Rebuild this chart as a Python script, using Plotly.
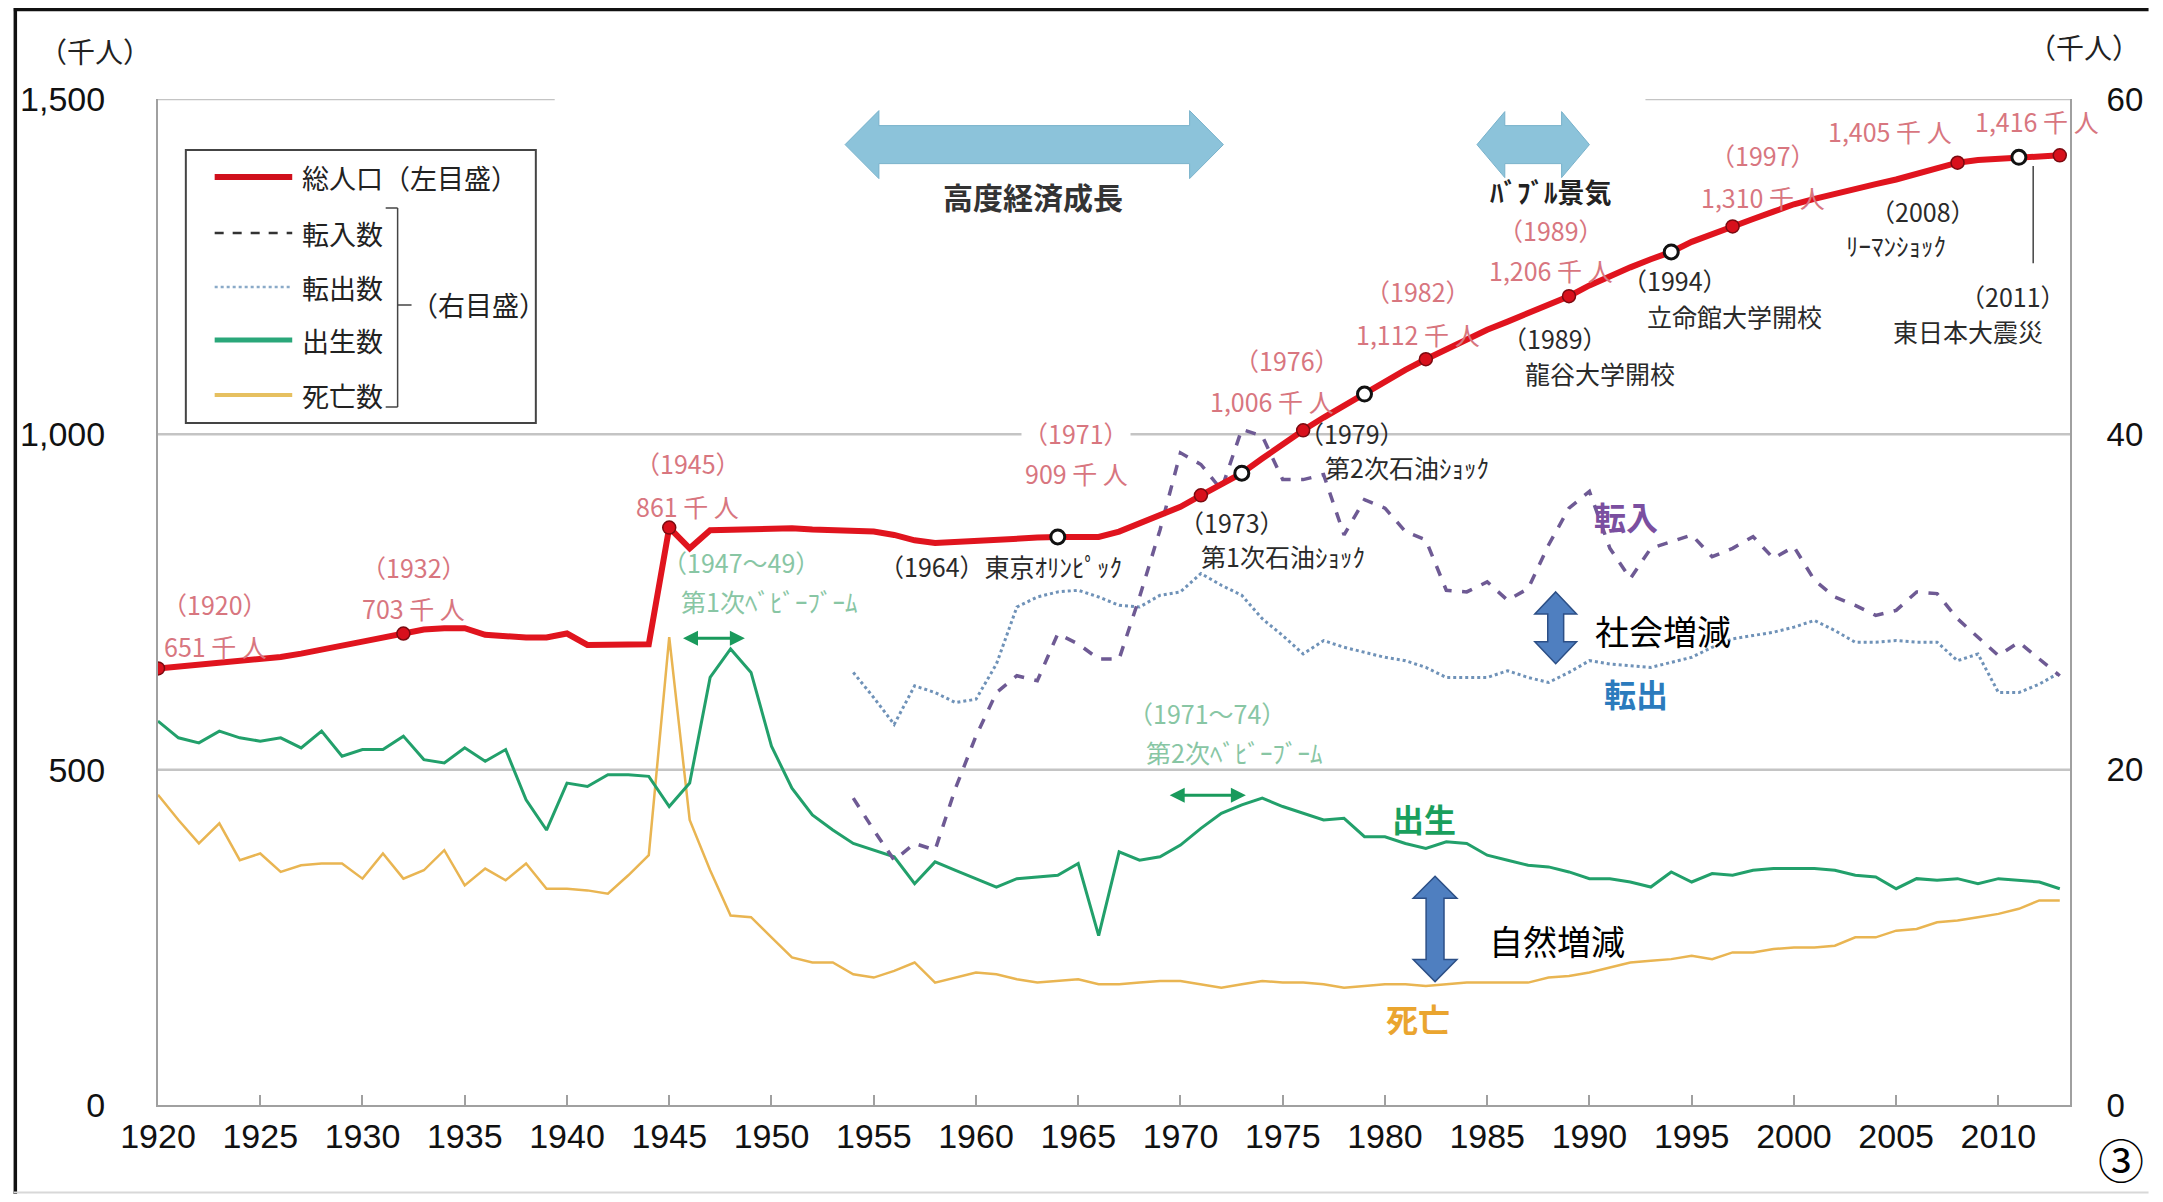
import plotly.graph_objects as go

# ---------------- data ----------------
years = list(range(1920, 2014))
population = [651, 654, 657, 660, 662, 664, 668, 673, 678, 685,
              691, 697, 703, 709, 711, 711, 701, 698, 697, 697,
              703, 686, 686, 686, 687, 861, 830, 857, 858, 859,
              861, 860, 858, 857, 856, 855, 850, 842, 838, 840,
              841, 843, 845, 846, 847, 847, 847, 855, 868, 880,
              892, 909, 925, 942, 964, 986, 1006, 1025, 1043, 1060,
              1080, 1096, 1112, 1127, 1141, 1156, 1168, 1180, 1193, 1206,
              1222, 1236, 1249, 1261, 1272, 1287, 1299, 1310, 1321, 1332,
              1343, 1351, 1359, 1366, 1373, 1380, 1388, 1396, 1405, 1409,
              1411, 1413, 1415, 1416]
births = [22.9, 21.9, 21.6, 22.3, 21.9, 21.7, 21.9, 21.3, 22.3, 20.8,
          21.2, 21.2, 22.0, 20.6, 20.4, 21.3, 20.5, 21.2, 18.2, 16.4,
          19.2, 19.0, 19.7, 19.7, 19.6, 17.8, 19.2, 25.5, 27.2, 25.8,
          21.4, 18.9, 17.3, 16.4, 15.6, 15.2, 14.8, 13.2, 14.5, 14.0,
          13.5, 13.0, 13.5, 13.6, 13.7, 14.4, 10.1, 15.1, 14.6, 14.8,
          15.5, 16.5, 17.4, 17.9, 18.3, 17.8, 17.4, 17.0, 17.1, 16.0,
          16.0, 15.6, 15.3, 15.7, 15.6, 14.9, 14.6, 14.3, 14.2, 13.9,
          13.5, 13.5, 13.3, 13.0, 13.9, 13.3, 13.8, 13.7, 14.0, 14.1,
          14.1, 14.1, 14.0, 13.7, 13.6, 12.9, 13.5, 13.4, 13.5, 13.2,
          13.5, 13.4, 13.3, 12.9]
deaths = [18.5, 17.0, 15.6, 16.8, 14.6, 15.0, 13.9, 14.3, 14.4, 14.4,
          13.5, 15.0, 13.5, 14.0, 15.2, 13.1, 14.1, 13.4, 14.4, 12.9,
          12.9, 12.8, 12.6, 13.7, 14.9, 27.9, 17.0, 14.0, 11.3, 11.2,
          10.0, 8.8, 8.5, 8.5, 7.8, 7.6, 8.0, 8.5, 7.3, 7.6,
          7.9, 7.8, 7.5, 7.3, 7.4, 7.5, 7.2, 7.2, 7.3, 7.4,
          7.4, 7.2, 7.0, 7.2, 7.4, 7.3, 7.3, 7.2, 7.0, 7.1,
          7.2, 7.2, 7.1, 7.2, 7.3, 7.3, 7.3, 7.3, 7.6, 7.7,
          7.9, 8.2, 8.5, 8.6, 8.7, 8.9, 8.7, 9.1, 9.1, 9.3,
          9.4, 9.4, 9.5, 10.0, 10.0, 10.4, 10.5, 10.9, 11.0, 11.2,
          11.4, 11.7, 12.2, 12.2]
mig_years = list(range(1954, 2014))
moved_in = [18.3, 16.4, 14.6, 15.6, 15.2, 18.9, 22.0, 24.6, 25.6, 25.3,
            28.1, 27.5, 26.6, 26.6, 30.3, 34.3, 38.9, 38.2, 36.7, 40.3,
            39.9, 37.3, 37.3, 37.6, 34.0, 36.1, 35.6, 34.2, 33.7, 30.7,
            30.6, 31.2, 30.1, 30.8, 33.4, 35.6, 36.6, 33.2, 31.4, 33.2,
            33.6, 34.0, 32.7, 33.2, 33.9, 32.6, 33.3, 31.3, 30.3, 29.8,
            29.2, 29.5, 30.6, 30.5, 29.0, 27.9, 26.8, 27.6, 26.6, 25.6]
moved_out = [25.8, 24.3, 22.7, 25.0, 24.6, 24.0, 24.2, 26.3, 29.7, 30.3,
             30.6, 30.7, 30.3, 29.8, 29.7, 30.4, 30.6, 31.7, 31.0, 30.4,
             29.0, 28.0, 26.9, 27.7, 27.3, 27.0, 26.7, 26.5, 26.1, 25.5,
             25.5, 25.5, 25.9, 25.5, 25.2, 25.8, 26.5, 26.3, 26.2, 26.1,
             26.4, 26.7, 27.3, 27.8, 28.0, 28.2, 28.5, 28.9, 28.3, 27.6,
             27.6, 27.7, 27.6, 27.6, 26.5, 26.9, 24.6, 24.6, 25.1, 25.8]
label_years = [1920, 1932, 1945, 1971, 1976, 1982, 1989, 1997, 2008, 2013]
event_years = [1964, 1973, 1979, 1994, 2011]
x_ticks = list(range(1920, 2011, 5))
left_ticks = [0, 500, 1000, 1500]
left_ticktext = ["0", "500", "1,000", "1,500"]
right_ticks = [0, 20, 40, 60]

# ---------------- geometry helpers ----------------
PL, PR, PT, PB = 153, 2076, 99, 1105          # plot area in reference pixels
XMIN, XMAX = 1920, 2013.5
PPY = (PR - PL) / (XMAX - XMIN)               # px per year
PPU = (PB - PT) / 1500.0                      # px per left unit
OFF = 8                                       # body margin of the page
FW, FH = 2163 - 2 * OFF, 1202 - 2 * OFF


def rp(xr, yr):
    return (xr - PL) / (PR - PL), (PB - yr) / (PB - PT)


def fp(fx, fy):
    return rp(fx + OFF, fy + OFF)


def harrow(xa, xb, yc, hl_px, hh_px, sh_px):
    hl, hh, sh = hl_px / PPY, hh_px / PPU, sh_px / PPU
    pts = [(xa, yc), (xa + hl, yc + hh), (xa + hl, yc + sh), (xb - hl, yc + sh),
           (xb - hl, yc + hh), (xb, yc), (xb - hl, yc - hh), (xb - hl, yc - sh),
           (xa + hl, yc - sh), (xa + hl, yc - hh)]
    return "M " + " L ".join(f"{x:.4f},{y:.4f}" for x, y in pts) + " Z"


def varrow(xc, ya, yb, hl_px, hw_px, sw_px):
    hl, hw, sw = hl_px / PPU, hw_px / PPY, sw_px / PPY
    pts = [(xc, yb), (xc + hw, yb - hl), (xc + sw, yb - hl), (xc + sw, ya + hl),
           (xc + hw, ya + hl), (xc, ya), (xc - hw, ya + hl), (xc - sw, ya + hl),
           (xc - sw, yb - hl), (xc - hw, yb - hl)]
    return "M " + " L ".join(f"{x:.4f},{y:.4f}" for x, y in pts) + " Z"


JP = "Noto Sans CJK JP, Noto Sans, sans-serif"
NUM = "Liberation Sans Narrow, Arial Narrow, Liberation Sans, Arial, sans-serif"
PINK = "#d8767f"
DARK = "#2a2a2a"
GFADE = "#88c6a4"

fig = go.Figure()

# right-axis series (y)
fig.add_trace(go.Scatter(x=years, y=deaths, mode="lines", yaxis="y",
                         line=dict(color="#e9b552", width=2.5), showlegend=False))
fig.add_trace(go.Scatter(x=years, y=births, mode="lines", yaxis="y",
                         line=dict(color="#22a06b", width=3), showlegend=False))
fig.add_trace(go.Scatter(x=mig_years, y=moved_out, mode="lines", yaxis="y",
                         line=dict(color="#6f92b8", width=3, dash="dot"), showlegend=False))
fig.add_trace(go.Scatter(x=mig_years, y=moved_in, mode="lines", yaxis="y",
                         line=dict(color="#6e5a94", width=3.5, dash="dash"), showlegend=False))
# population on left axis (y2, overlay)
fig.add_trace(go.Scatter(x=years, y=population, mode="lines", yaxis="y2",
                         line=dict(color="#e0141e", width=6), showlegend=False))
pop_lookup = dict(zip(years, population))
fig.add_trace(go.Scatter(x=label_years, y=[pop_lookup[y] for y in label_years],
                         mode="markers", yaxis="y2", showlegend=False,
                         marker=dict(size=13, color="#d8101c", line=dict(color="#7a0a10", width=1.5))))
fig.add_trace(go.Scatter(x=event_years, y=[pop_lookup[y] for y in event_years],
                         mode="markers", yaxis="y2", showlegend=False,
                         marker=dict(size=14, color="white", line=dict(color="#111", width=3))))

shapes = []
GRID = dict(color="#c4c4c4", width=2.5)
for v in (500, 1000):
    shapes.append(dict(type="line", xref="paper", yref="y2", x0=0, x1=1, y0=v, y1=v,
                       line=GRID, layer="below"))
shapes.append(dict(type="line", xref="paper", yref="y2", x0=0, x1=rp(552, 0)[0],
                   y0=1500, y1=1500, line=GRID, layer="below"))
shapes.append(dict(type="line", xref="paper", yref="y2", x0=rp(1649, 0)[0], x1=1,
                   y0=1500, y1=1500, line=GRID, layer="below"))

# big light-blue arrows
shapes.append(dict(type="path", xref="x", yref="y2", path=harrow(1953.6, 1972.1, 1432, 34, 34, 19),
                   fillcolor="#8cc3da", line=dict(color="#79b2cb", width=1)))
shapes.append(dict(type="path", xref="x", yref="y2", path=harrow(1984.5, 1990.0, 1432, 28, 33, 19),
                   fillcolor="#8cc3da", line=dict(color="#79b2cb", width=1)))
# blue vertical arrows
shapes.append(dict(type="path", xref="x", yref="y2", path=varrow(1988.35, 658, 765, 22, 21, 8),
                   fillcolor="#4f7fc0", line=dict(color="#2c4f86", width=1.5)))
shapes.append(dict(type="path", xref="x", yref="y2", path=varrow(1982.45, 184, 341, 22, 22, 9),
                   fillcolor="#4f7fc0", line=dict(color="#2c4f86", width=1.5)))
# connector line for 2011
shapes.append(dict(type="line", xref="x", yref="y2", x0=2011.7, x1=2011.7, y0=1400, y1=1255,
                   line=dict(color="#444", width=1.5)))

# legend box
lx0, ly0 = rp(181, 423)
lx1, ly1 = rp(533, 150)
shapes.append(dict(type="rect", xref="paper", yref="paper", x0=lx0, y0=ly0, x1=lx1, y1=ly1,
                   fillcolor="white", line=dict(color="#444", width=2)))
leg_items = [("総人口（左目盛）", 177, dict(color="#d0101c", width=6)),
             ("転入数", 233, dict(color="#333", width=2.5, dash="dash")),
             ("転出数", 287, dict(color="#8aaac8", width=2.5, dash="dot")),
             ("出生数", 340, dict(color="#2aa77a", width=5)),
             ("死亡数", 395, dict(color="#e6c060", width=4))]
annotations = []
for txt, yy, ln in leg_items:
    a, b = rp(210, yy)
    c, _ = rp(288, yy)
    shapes.append(dict(type="line", xref="paper", yref="paper", x0=a, x1=c, y0=b, y1=b, line=ln))
    tx, ty = rp(296, yy)
    annotations.append(dict(xref="paper", yref="paper", x=tx, y=ty, text=txt, showarrow=False,
                            xanchor="left", yanchor="middle", font=dict(family=JP, size=27, color="#222")))
BR = dict(color="#444", width=1.5)
for (xa, ya, xb, yb) in [(394, 208, 394, 407), (382, 208, 394, 208), (382, 407, 394, 407), (394, 305, 408, 305)]:
    p0 = rp(xa, ya)
    p1 = rp(xb, yb)
    shapes.append(dict(type="line", xref="paper", yref="paper", x0=p0[0], y0=p0[1], x1=p1[0], y1=p1[1], line=BR))
tx, ty = rp(405, 305)
annotations.append(dict(xref="paper", yref="paper", x=tx, y=ty, text="（右目盛）", showarrow=False,
                        xanchor="left", yanchor="middle", font=dict(family=JP, size=27, color="#222")))

# outer frame: black top and left, light bottom
a0 = fp(0, 1.5)
a1 = fp(FW, 1.5)
shapes.append(dict(type="line", xref="paper", yref="paper", x0=a0[0], y0=a0[1], x1=a1[0], y1=a1[1],
                   line=dict(color="#111", width=3.5)))
a0 = fp(1.5, 0)
a1 = fp(1.5, FH)
shapes.append(dict(type="line", xref="paper", yref="paper", x0=a0[0], y0=a0[1], x1=a1[0], y1=a1[1],
                   line=dict(color="#111", width=3.5)))
a0 = fp(0, FH - 1.5)
a1 = fp(FW, FH - 1.5)
shapes.append(dict(type="line", xref="paper", yref="paper", x0=a0[0], y0=a0[1], x1=a1[0], y1=a1[1],
                   line=dict(color="#d8d8d8", width=2)))


def ann(text, x, y, color, size, bold=False, bg=None):
    d = dict(xref="x", yref="y2", x=x, y=y, text=(f"<b>{text}</b>" if bold else text), showarrow=False,
             xanchor="center", yanchor="middle", font=dict(family=JP, size=size, color=color))
    if bg:
        d["bgcolor"] = bg
    annotations.append(d)


pink_labels = [("（1920）", 1922.8, 747), ("651 千 人", 1922.8, 685),
               ("（1932）", 1932.5, 802), ("703 千 人", 1932.5, 741),
               ("（1945）", 1945.9, 957), ("861 千 人", 1945.9, 893),
               ("（1971）", 1964.9, 1002), ("909 千 人", 1964.9, 943),
               ("（1976）", 1975.2, 1111), ("1,006 千 人", 1974.5, 1049),
               ("（1982）", 1981.6, 1214), ("1,112 千 人", 1981.6, 1150),
               ("（1989）", 1988.1, 1305), ("1,206 千 人", 1988.1, 1245),
               ("（1997）", 1998.5, 1416), ("1,310 千 人", 1998.5, 1354),
               ("（2008）", 2004.7, 1512), ("1,405 千 人", 2004.7, 1453),
               ("（2013）", 2011.9, 1529), ("1,416 千 人", 2011.9, 1467)]
for t, x, y in pink_labels:
    ann(t, x, y, PINK, 25, bg="white" if t == "（1971）" else None)

event_labels = [("（1964）東京ｵﾘﾝﾋﾟｯｸ", 1961.2, 804),
                ("（1973）", 1972.5, 870), ("第1次石油ｼｮｯｸ", 1975.0, 818),
                ("（1979）", 1978.4, 1002), ("第2次石油ｼｮｯｸ", 1981.1, 951),
                ("（1989）", 1988.3, 1144), ("龍谷大学開校", 1990.5, 1091),
                ("（1994）", 1994.2, 1230), ("立命館大学開校", 1997.1, 1177),
                ("（2008）", 2006.3, 1333), ("ﾘｰﾏﾝｼｮｯｸ", 2005.0, 1282),
                ("（2011）", 2010.7, 1206), ("東日本大震災", 2008.5, 1154)]
for t, x, y in event_labels:
    ann(t, x, y, DARK, 25)

for t, x, y in [("（1947～49）", 1948.5, 809), ("第1次ﾍﾞﾋﾞｰﾌﾞｰﾑ", 1949.9, 751),
                ("（1971～74）", 1971.3, 584), ("第2次ﾍﾞﾋﾞｰﾌﾞｰﾑ", 1972.6, 527)]:
    ann(t, x, y, GFADE, 25)

ann("高度経済成長", 1962.8, 1356, "#333", 30, bold=True)
ann("ﾊﾞﾌﾞﾙ景気", 1988.1, 1362, "#222", 27, bold=True)
ann("転入", 1991.8, 878, "#7b4fa0", 32, bold=True)
ann("転出", 1992.3, 614, "#2b7bbd", 32, bold=True)
ann("出生", 1981.9, 428, "#1a9f5d", 32, bold=True)
ann("死亡", 1981.6, 130, "#eaa52f", 32, bold=True)
ann("社会増減", 1993.6, 708, "#000", 34)
ann("自然増減", 1988.4, 246, "#000", 34)

# green double arrows (baby booms)
for xa, xb, yv in [(1945.6, 1948.7, 696), (1969.4, 1973.2, 462)]:
    annotations.append(dict(xref="x", yref="y2", axref="x", ayref="y2", x=xb, y=yv, ax=xa, ay=yv,
                            text="", showarrow=True, arrowside="end+start", arrowhead=2,
                            arrowsize=1, arrowwidth=3, arrowcolor="#1a9a5c", standoff=0, startstandoff=0))

# units and corner mark
ux, uy = rp(90, 51)
annotations.append(dict(xref="paper", yref="paper", x=ux, y=uy, text="（千人）", showarrow=False,
                        xanchor="center", yanchor="middle", font=dict(family=JP, size=28, color="#222")))
ux, uy = rp(2090, 47)
annotations.append(dict(xref="paper", yref="paper", x=ux, y=uy, text="（千人）", showarrow=False,
                        xanchor="center", yanchor="middle", font=dict(family=JP, size=28, color="#222")))
ux, uy = fp(FW - 3, 1158 - OFF)
annotations.append(dict(xref="paper", yref="paper", x=ux, y=uy, text="③", showarrow=False,
                        xanchor="right", yanchor="middle", font=dict(family=JP, size=46, color="#000")))

fig.update_layout(
    width=FW, height=FH, autosize=False,
    margin=dict(l=PL - OFF, r=FW - (PR - OFF), t=PT - OFF, b=FH - (PB - OFF), pad=0),
    paper_bgcolor="white", plot_bgcolor="white", showlegend=False,
    xaxis=dict(range=[XMIN, XMAX], tickvals=x_ticks, ticks="inside", ticklen=10, tickcolor="#a0a0a0",
               tickwidth=1.5, showline=True, linecolor="#a0a0a0", linewidth=2, showgrid=False,
               zeroline=False, tickfont=dict(family=NUM, size=34, color="#111"), ticklabelstandoff=0),
    yaxis=dict(range=[0, 60], side="right", tickvals=right_ticks, showgrid=False, zeroline=False,
               showline=True, linecolor="#a0a0a0", linewidth=2, ticks="",
               tickfont=dict(family=NUM, size=33, color="#111"), ticklabelstandoff=28),
    yaxis2=dict(range=[0, 1500], side="left", overlaying="y", tickvals=left_ticks, ticktext=left_ticktext,
                showgrid=False, zeroline=False, showline=True, linecolor="#a0a0a0", linewidth=2, ticks="",
                tickfont=dict(family=NUM, size=34, color="#111"), ticklabelstandoff=44),
    shapes=shapes, annotations=annotations,
)

fig.write_html("out.html")
